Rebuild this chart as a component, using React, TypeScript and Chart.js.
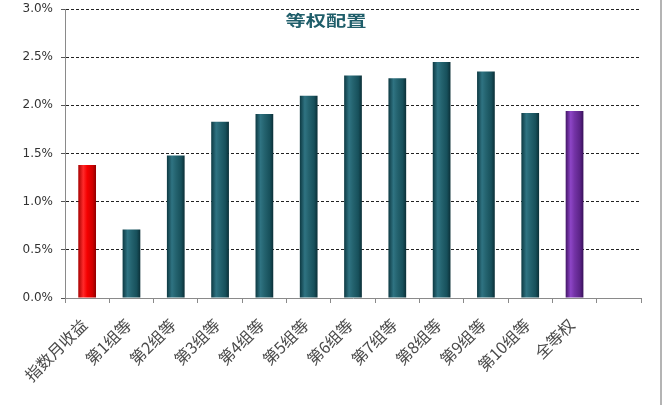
import React, { useEffect, useRef } from "react";
import { Chart, registerables } from "chart.js";

Chart.register(...registerables);

const categories = [
  "指数月收益", "第1组等", "第2组等", "第3组等", "第4组等", "第5组等",
  "第6组等", "第7组等", "第8组等", "第9组等", "第10组等", "全等权", "",
];
const values = [1.38, 0.71, 1.48, 1.83, 1.91, 2.10, 2.31, 2.28, 2.45, 2.35, 1.92, 1.94, null];
const barKinds = ["red", "teal", "teal", "teal", "teal", "teal", "teal", "teal", "teal", "teal", "teal", "purple", "teal"];
const yTicks = [0, 0.5, 1.0, 1.5, 2.0, 2.5, 3.0];
const titleText = "等权配置";

const palettes: Record<string, [number, string][]> = {
  teal: [[0, "#0d3942"], [0.28, "#2f7382"], [0.5, "#24636f"], [0.8, "#17505b"], [1, "#0b2f37"]],
  red: [[0, "#a80000"], [0.28, "#ff2a2a"], [0.5, "#f50000"], [0.8, "#d00000"], [1, "#900000"]],
  purple: [[0, "#431567"], [0.28, "#8d45c6"], [0.5, "#7433a6"], [0.8, "#5c2488"], [1, "#38105a"]],
};

const BAR_FRAC = 0.4;

const titlePlugin = {
  id: "innerTitle",
  afterDraw(chart: any) {
    const { ctx, chartArea } = chart;
    ctx.save();
    ctx.translate(326, chartArea.top + 11);
    ctx.scale(1.35, 1);
    ctx.font = "bold 15px 'Noto Sans CJK SC'";
    ctx.fillStyle = "#1f5e6a";
    ctx.textAlign = "center";
    ctx.textBaseline = "middle";
    ctx.fillText(titleText, 0, 0);
    ctx.restore();
  },
};

export default function App() {
  const ref = useRef<HTMLCanvasElement | null>(null);

  useEffect(() => {
    document.body.style.margin = "0";
    const canvas = ref.current!;
    const chart = new Chart(canvas, {
      type: "bar",
      data: {
        labels: categories,
        datasets: [
          {
            data: values as any,
            barPercentage: 0.8,
            categoryPercentage: BAR_FRAC / 0.8,
            backgroundColor: (c: any) => {
              const ch = c.chart;
              const xs = ch.scales?.x;
              const kind = barKinds[c.dataIndex] || "teal";
              const pal = palettes[kind];
              if (!xs || !ch.chartArea) return pal[2][1];
              const cx = xs.getPixelForValue(c.dataIndex);
              const w = (xs.width / categories.length) * BAR_FRAC;
              const g = ch.ctx.createLinearGradient(cx - w / 2, 0, cx + w / 2, 0);
              pal.forEach(([o, col]) => g.addColorStop(o, col));
              return g;
            },
            borderWidth: 0,
          },
        ],
      },
      options: {
        responsive: false,
        animation: false,
        layout: { padding: { top: 9, right: 22, left: 0, bottom: 0 } },
        plugins: {
          legend: { display: false },
          tooltip: { enabled: false },
          title: { display: false },
        },
        scales: {
          x: {
            offset: true,
            grid: {
              offset: true,
              drawOnChartArea: false,
              drawTicks: true,
              tickLength: 5,
              color: "#8a8a8a",
            },
            border: { color: "#8a8a8a", width: 1 },
            ticks: {
              autoSkip: false,
              maxRotation: 45,
              minRotation: 45,
              padding: 12,
              labelOffset: -3,
              color: "#4a4a4a",
              font: { family: "'Noto Sans CJK SC'", size: 16 },
            },
            afterFit(s: any) {
              s.height = 107;
              s.paddingLeft = 0;
              s.paddingRight = 0;
            },
          },
          y: {
            min: 0,
            max: 3,
            afterBuildTicks(s: any) {
              s.ticks = yTicks.map((v) => ({ value: v }));
            },
            grid: {
              color: (c: any) => (c.tick && c.tick.value === 0 ? "rgba(0,0,0,0)" : "#222"),
              tickColor: "#555",
              tickLength: 4,
              lineWidth: 1,
            },
            border: { color: "#8a8a8a", width: 1, dash: [3, 2] },
            ticks: {
              padding: 8,
              color: "#333",
              font: { family: "'DejaVu Sans'", size: 12 },
              callback: (v: any) => Number(v).toFixed(1) + "%",
            },
            afterFit(s: any) {
              s.width = 65;
              s.paddingTop = 0;
              s.paddingBottom = 0;
            },
          },
        },
      },
      plugins: [titlePlugin],
    });
    return () => chart.destroy();
  }, []);

  return (
    <div style={{ position: "absolute", left: 0, top: 0, width: 663, height: 405, background: "#fff" }}>
      <canvas ref={ref} width={663} height={405} style={{ display: "block", width: 663, height: 405 }} />
      <div style={{ position: "absolute", left: 660, top: 0, width: 2, height: 405, background: "#b4b4b4" }} />
    </div>
  );
}
